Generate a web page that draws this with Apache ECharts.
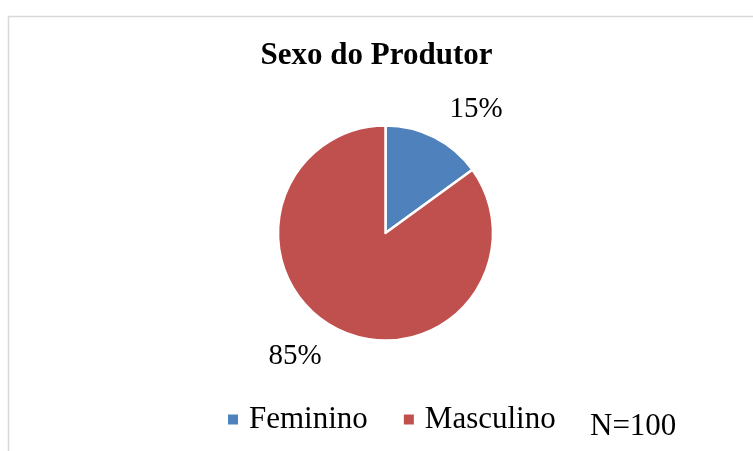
<!DOCTYPE html>
<html>
<head>
<meta charset="utf-8">
<script src="https://cdn.jsdelivr.net/npm/echarts@6/dist/echarts.min.js"></script>
<style>
  html, body { margin: 0; padding: 0; background: #fff; }
  #chart { width: 753px; height: 451px; }
</style>
</head>
<body>
<div id="chart"></div>
<script>
const categories = ['Feminino', 'Masculino']
const values = [15, 85]
const colors = ['#4f81bd', '#c0504d']
const titleText = 'Sexo do Produtor'
const noteText = 'N=100'

const serif = '"Liberation Serif", "Times New Roman", serif'

const chart = echarts.init(document.getElementById('chart'))

chart.setOption({
  animation: false,
  backgroundColor: '#fff',
  color: colors,
  graphic: [{
    type: 'rect',
    left: 6,
    top: 14,
    shape: { width: 800, height: 500 },
    style: { fill: 'none', stroke: '#d9d9d9', lineWidth: 1.5 },
    silent: true
  }],
  title: [{
    text: titleText,
    left: 'center',
    top: 40,
    padding: 0,
    textStyle: { fontFamily: serif, fontWeight: 'bold', fontSize: 31, color: '#000' }
  }, {
    text: noteText,
    left: 590,
    top: 411,
    padding: 0,
    textStyle: { fontFamily: serif, fontWeight: 'normal', fontSize: 31, color: '#000' }
  }],
  legend: {
    left: 226,
    top: 404,
    padding: 0,
    itemWidth: 12,
    itemHeight: 12,
    itemGap: 34,
    icon: 'rect',
    data: categories,
    textStyle: { fontFamily: serif, fontSize: 31, color: '#000', padding: [0, 0, 0, 5] }
  },
  series: [{
    type: 'pie',
    center: [385.5, 233],
    radius: 107.5,
    startAngle: 90,
    clockwise: true,
    avoidLabelOverlap: false,
    itemStyle: { borderColor: '#fff', borderWidth: 2.5 },
    label: {
      show: true,
      position: 'outside',
      formatter: '{d}%',
      fontFamily: serif,
      fontSize: 29,
      color: '#000',
      padding: [12, 0, 0, 0]
    },
    labelLine: { show: false, length: 31, length2: -4 },
    emphasis: { disabled: true },
    data: categories.map((name, i) => ({ name, value: values[i] }))
  }]
})
</script>
</body>
</html>
